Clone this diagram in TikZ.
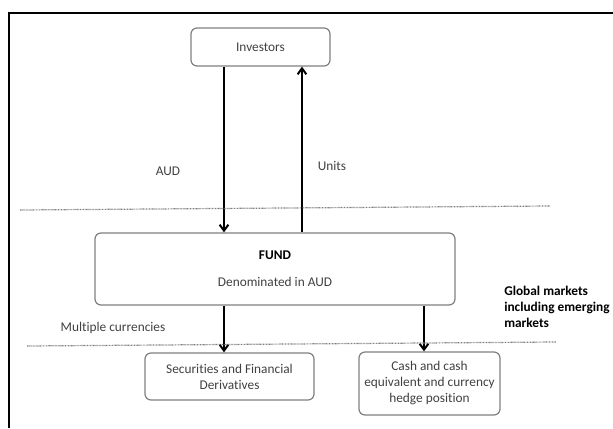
\documentclass[tikz,border=0pt]{standalone}
\usepackage{fontspec}
\setmainfont[Ligatures=NoCommon]{Carlito}
\usetikzlibrary{arrows.meta}
\definecolor{boxline}{HTML}{7F7F7F}
\definecolor{txt}{HTML}{404040}
\begin{document}
\begin{tikzpicture}[x=0.75pt,y=-0.75pt,
  box/.style={draw=boxline,line width=0.9pt,rounded corners=4.5pt,align=center,
    text=txt,font=\fontsize{10}{12}\selectfont,inner sep=0pt},
  flow/.style={line width=1.5pt,-{Straight Barb[length=4.5pt,width=6.5pt,line width=1.5pt]}},
  zone/.style={boxline,line width=0.9pt,dash pattern=on 0.6pt off 0.5pt},
  lbl/.style={text=txt,font=\fontsize{10}{12}\selectfont}]

\useasboundingbox (0,0) rectangle (613,428);
% frame
\draw[line width=1.5pt] (9,428) -- (9,13) -- (613,13);

\coordinate (L) at (224,0);
\coordinate (R) at (302,0);
\coordinate (C) at (424,0);

\node[box,minimum width=104.25pt,minimum height=28.5pt] (inv) at (260.5,47) {Investors};
\node[box,minimum width=270pt,minimum height=54pt] (fund) at (275,269)
  {\textcolor{black}{\textbf{FUND}}\\[8.25pt]Denominated in AUD};
\node[box,minimum width=126.75pt,minimum height=35.25pt] (sec) at (229.5,376.5)
  {Securities and Financial\\Derivatives};
\node[box,minimum width=105.75pt,minimum height=47.25pt] (cash) at (429.5,383.5)
  {Cash and cash\\equivalent and currency\\hedge position};

\draw[flow] (inv.south -| L) -- (fund.north -| L);
\draw[flow] (fund.north -| R) -- (inv.south -| R);
\draw[flow] (fund.south -| L) -- (sec.north -| L);
\draw[flow] (fund.south -| C) -- (cash.north -| C);

\node[lbl] (aud) at (168,171) {AUD};
\node[lbl] (units) at (332,166) {Units};
\node[lbl] (multi) at (113,328) {Multiple currencies};
\node[anchor=west,align=left,inner sep=0pt,font=\fontsize{10}{12}\selectfont\bfseries] (glob) at (504,307)
  {Global markets\\including emerging\\markets};

% zone lines
\draw[zone] (20,210) -- (550,206);
\draw[zone] (27,346) -- (556,342);

\end{tikzpicture}
\end{document}
